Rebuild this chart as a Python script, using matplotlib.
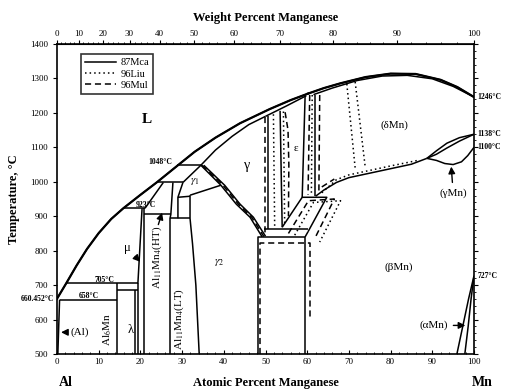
import numpy as np
import matplotlib.pyplot as plt
from matplotlib.lines import Line2D

plt.rcParams['font.family'] = ['Liberation Serif', 'DejaVu Serif']
plt.rcParams['mathtext.fontset'] = 'stix'

# phase boundaries, (at.% Mn, temperature in C)
liq_al = [(0, 660.452), (2.2, 705), (4.7, 757), (7.2, 805), (10, 851), (13, 892), (15.9, 923),
          (20, 962), (24, 999), (28.8, 1046), (33, 1087), (38, 1128), (43.9, 1170), (51, 1211),
          (56, 1237), (60.2, 1256)]
liq_mn = [(60.2, 1256), (64, 1272), (68, 1286), (74, 1304), (80, 1314), (86, 1313), (92, 1296),
          (96, 1275), (100, 1246)]
sol_mn = [(61.5, 1253), (66, 1272), (72, 1294), (78, 1307), (84, 1309), (90, 1299), (95, 1277),
          (100, 1246)]
sol_gamma = [(34.5, 1048), (38, 1092), (42, 1132), (46, 1166), (50, 1190)]
eps_top = [(50, 1190), (55, 1220), (59.8, 1250)]

iso_1048 = [(28.8, 1048), (34.5, 1048)]
iso_1002 = [(24, 998), (30.2, 998)]
iso_923 = [(15.9, 923), (21.1, 923)]
iso_705 = [(2.2, 705), (19.4, 705)]
iso_685 = [(14.3, 687), (19.4, 687)]
iso_658 = [(0.7, 658), (14.3, 658)]
iso_905 = [(20.9, 905), (27.3, 905)]
iso_894 = [(27.1, 894), (31.9, 894)]
iso_955 = [(29, 955), (31.9, 958)]
iso_860 = [(49.6, 862), (60.2, 862)]

al_solvus = [(0.62, 658), (0.2, 500)]
al6mn = [(14.3, 500), (14.3, 705)]
lam_left = [(18.7, 500), (18.7, 687)]
lam_right = [(19.4, 500), (19.4, 705)]
mu_left = [(19.4, 705), (20.4, 923)]
mu_right = [(20.9, 500), (20.9, 923)]
ht_left = [(21.1, 923), (25.5, 998)]
ht_right = [(27.8, 998), (27.3, 905), (27.1, 894), (27.1, 500)]
g2_left = [(34.1, 500), (33.3, 700), (32.5, 820), (31.9, 894), (31.9, 961)]
box_left = [(29, 894), (29, 955), (30.2, 998)]
g1_left = [(30.2, 998), (34.5, 1048)]
g1_low = [(31.9, 961), (39.3, 990)]
gam_left = [(34.5, 1048), (39.3, 990), (43, 935), (46.3, 897), (49.2, 840)]
gam_left2 = [(35.2, 1048), (40.2, 990), (43.9, 935), (47.1, 897), (50, 842)]
gam_right = [(50.6, 1190), (50.6, 862)]
eps_left = [(53.5, 1206), (54, 868)]
eps_right = [(59.5, 1250), (58.8, 955)]
eps_right2 = [(61.9, 1252), (61.9, 958)]
para = [(54, 868), (58.8, 955), (64.7, 955), (60.2, 855)]
box_g2 = [(48.2, 500), (48.2, 840), (59.5, 840), (59.5, 500)]
link_g2 = [(60.2, 855), (59.5, 840)]
beta_delta = [(62, 958), (64, 976), (67, 998), (70, 1012), (75, 1025), (80, 1038), (85, 1051),
              (88.7, 1068)]
lens_top = [(88.7, 1068), (91, 1090), (93.5, 1112), (96.5, 1128), (100, 1138)]
lens_mid = [(88.7, 1068), (91, 1080), (93.5, 1098), (96.5, 1118), (100, 1138)]
gmn_low = [(88.7, 1068), (91, 1062), (93, 1053), (95, 1050), (97, 1058), (98.5, 1076), (100, 1100)]
amn_left = [(95.9, 500), (97.3, 580), (98.7, 660), (100, 727)]
amn_right = [(97.8, 500), (98.6, 580), (99.3, 660), (100, 727)]

# 96Mul (dashed)
mul_gam_right = [(49.9, 1188), (49.9, 850)]
mul_eps_left = [(54.7, 1202), (55.4, 1150), (55.6, 1050), (55.5, 900)]
mul_eps_right = [(60.6, 1252), (60.2, 962)]
mul_eps_right2 = [(63, 1252), (62.8, 966)]
mul_gam_left = [(34.8, 1048), (39.8, 990), (43.5, 935), (46.7, 897), (49.6, 841)]
mul_box = [(48.8, 500), (48.8, 822), (60.7, 822), (60.7, 598)]
mul_para = [(55.5, 850), (60.3, 945), (66.5, 950), (61.8, 835)]
mul_beta = [(63.5, 985), (66.5, 1008)]

# 96Liu (dotted)
liu_gam = [(51.9, 1196), (52.2, 870)]
liu_eps = [(54.3, 1204), (54.6, 875)]
liu_eps2 = [(61.2, 1252), (61, 962)]
liu_delta_a = [(69.5, 1284), (71.5, 1040)]
liu_delta_b = [(71.5, 1290), (73.9, 1044)]
liu_beta = [(63.5, 968), (67, 1006), (70, 1020), (75, 1033), (80, 1046), (86.5, 1062)]
liu_para = [(57, 845), (61.5, 940), (68, 945), (63, 825)]

solid_lines = [liq_al, liq_mn, sol_mn, sol_gamma, eps_top, iso_1048, iso_1002, iso_923, iso_705,
               iso_685, iso_658, iso_905, iso_894, iso_955, iso_860, al_solvus, al6mn, lam_left,
               lam_right, mu_left, mu_right, ht_left, ht_right, g2_left, box_left, g1_left,
               g1_low, gam_left, gam_left2, gam_right, eps_left, eps_right, eps_right2, para,
               box_g2, link_g2, beta_delta, lens_top, lens_mid, gmn_low, amn_left, amn_right]
dashed_lines = [mul_gam_right, mul_eps_left, mul_eps_right, mul_eps_right2, mul_gam_left,
                mul_box, mul_para, mul_beta]
dotted_lines = [liu_gam, liu_eps, liu_eps2, liu_delta_a, liu_delta_b, liu_beta, liu_para]

MN, AL = 54.938, 26.982


def at2wt(x):
    x = np.clip(np.asarray(x, dtype=float), 0, 100)
    return 100 * x * MN / (x * MN + (100 - x) * AL)


def wt2at(w):
    w = np.clip(np.asarray(w, dtype=float), 0, 100)
    return 100 * (w / MN) / (w / MN + (100 - w) / AL)


fig = plt.figure(figsize=(5.1, 3.92), dpi=100)
ax = fig.add_axes([57 / 510, 1 - 354 / 392, 417 / 510, 310 / 392])

for seg in solid_lines:
    xs, ts = zip(*seg)
    ax.plot(xs, ts, color='black', lw=1.1, solid_capstyle='butt', solid_joinstyle='round')
for seg in dashed_lines:
    xs, ts = zip(*seg)
    ax.plot(xs, ts, color='black', lw=1.1, ls=(0, (4, 2.5)))
for seg in dotted_lines:
    xs, ts = zip(*seg)
    ax.plot(xs, ts, color='black', lw=1.1, ls=(0, (1, 2)))

# outer liquidus drawn heavier
for seg in (liq_al, liq_mn):
    xs, ts = zip(*seg)
    ax.plot(xs, ts, color='black', lw=1.6, solid_joinstyle='round')

ax.set_xlim(0, 100)
ax.set_ylim(500, 1400)
ax.set_xticks(np.arange(0, 101, 10))
ax.set_xticks(np.arange(0, 101, 2), minor=True)
ax.set_yticks(np.arange(500, 1401, 100))
ax.set_yticks(np.arange(500, 1401, 20), minor=True)
ax.tick_params(axis='x', which='major', direction='in', length=3, labelsize=6.5, pad=3)
ax.tick_params(axis='x', which='minor', direction='in', length=1.5)
ax.tick_params(axis='y', which='major', direction='out', length=3, labelsize=6.5,
               right=True)
ax.tick_params(axis='y', which='minor', direction='out', length=1.5, left=False, right=True)
for sp in ax.spines.values():
    sp.set_linewidth(1.2)

top = ax.secondary_xaxis('top', functions=(at2wt, wt2at))
top.set_xticks(np.arange(0, 101, 10))
top.set_xticks(np.arange(0, 101, 2), minor=True)
top.tick_params(which='major', direction='out', length=3, labelsize=6.5, pad=1)
top.tick_params(which='minor', direction='out', length=1.5)
top.set_xlabel('Weight Percent Manganese', fontsize=9, fontweight='bold', labelpad=7)

ax.set_xlabel('Atomic Percent Manganese', fontsize=9, fontweight='bold', labelpad=8)
ax.set_ylabel('Temperature, °C', fontsize=9, fontweight='bold', labelpad=7)
ax.text(0.02, -0.092, 'Al', transform=ax.transAxes, fontsize=10, fontweight='bold',
        ha='center', va='center')
ax.text(1.02, -0.092, 'Mn', transform=ax.transAxes, fontsize=10, fontweight='bold',
        ha='center', va='center')

# phase field names
ax.text(21.5, 1180, 'L', fontsize=11, fontweight='bold', ha='center', va='center')
ax.text(45.6, 1048, 'γ', fontsize=10, ha='center', va='center')
ax.text(57.2, 1098, 'ε', fontsize=8, ha='center', va='center')
ax.text(33.1, 1000, r'$\gamma_1$', fontsize=8, ha='center', va='center')
ax.text(39, 766, r'$\gamma_2$', fontsize=8, ha='center', va='center')
ax.text(81, 1164, '(δMn)', fontsize=8, ha='center', va='center')
ax.text(82, 752, '(βMn)', fontsize=8, ha='center', va='center')
ax.text(17.7, 569, 'λ', fontsize=9, ha='center', va='center')
ax.text(12.2, 570, r'Al$_6$Mn', fontsize=8, rotation=90, ha='center', va='center')
ax.text(24, 780, r'Al$_{11}$Mn$_4$(HT)', fontsize=8, rotation=90, ha='center', va='center')
ax.text(29.2, 603, r'Al$_{11}$Mn$_4$(LT)', fontsize=8, rotation=90, ha='center', va='center')

arrow = dict(arrowstyle='-|>', color='black', lw=1.0, mutation_scale=10)
ax.annotate('(Al)', xy=(0.3, 563), xytext=(3.3, 563), fontsize=8, va='center',
            arrowprops=arrow)
ax.annotate('μ', xy=(20.4, 762), xytext=(16.8, 808), fontsize=9, ha='center',
            va='center', arrowprops=arrow)
ax.annotate('', xy=(25.4, 918), xytext=(24.1, 868), arrowprops=arrow)
ax.annotate('(γMn)', xy=(94.5, 1052), xytext=(95, 968), fontsize=8, ha='center',
            va='center', arrowprops=arrow)
ax.annotate('(αMn)', xy=(98.6, 583), xytext=(90.3, 583), fontsize=8, ha='center',
            va='center', arrowprops=arrow)

# invariant temperatures
small = dict(fontsize=5.5, fontweight='bold', va='center')
ax.text(27.6, 1058, '1048°C', ha='right', **small)
ax.text(21.4, 932, '923°C', ha='center', **small)
ax.text(11.3, 716, '705°C', ha='center', **small)
ax.text(7.7, 669, '658°C', ha='center', **small)
ax.text(-0.6, 660, '660.452°C', ha='right', clip_on=False, **small)
for t, lab in [(1246, '1246°C'), (1138, '1138°C'), (1100, '1100°C'), (727, '727°C')]:
    ax.text(100.8, t, lab, ha='left', clip_on=False, **small)

handles = [Line2D([], [], color='black', lw=1.1),
           Line2D([], [], color='black', lw=1.1, ls=(0, (1, 2))),
           Line2D([], [], color='black', lw=1.1, ls=(0, (4, 2.5)))]
leg = ax.legend(handles, ['87Mca', '96Liu', '96Mul'], loc='upper left',
                bbox_to_anchor=(0.045, 0.985), fontsize=7.5, frameon=True, fancybox=False,
                handlelength=3.0, handletextpad=0.4, borderpad=0.4, labelspacing=0.2)
leg.get_frame().set_edgecolor('black')
leg.get_frame().set_linewidth(1.2)

fig.savefig('out.png', dpi=100)
